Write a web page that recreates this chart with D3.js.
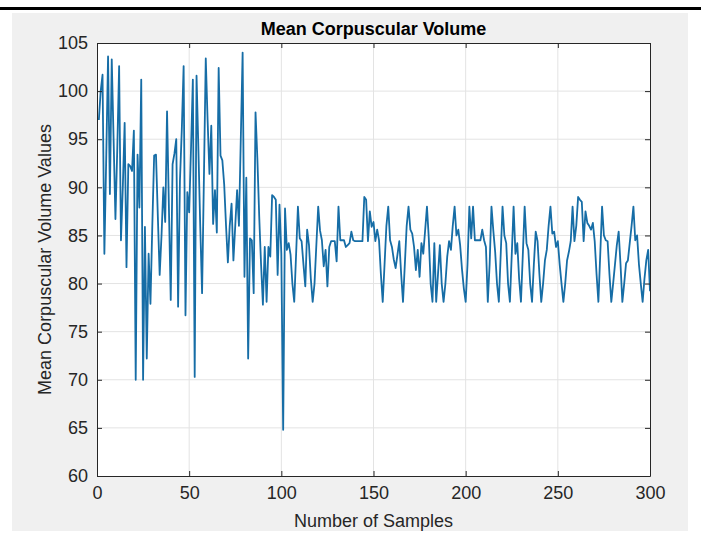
<!DOCTYPE html>
<html>
<head>
<meta charset="utf-8">
<script src="https://cdn.jsdelivr.net/npm/d3@7"></script>
<style>
  body { margin: 0; background: #fff; }
  svg { display: block; font-family: "Liberation Sans", Arial, sans-serif; }
</style>
</head>
<body>
<div id="chart"></div>
<script>
// values, samples 1..300
var mcv = [
 97, 100, 101.7, 83.1, 93, 103.6, 89.3, 103.3, 95, 86.7,
 94, 102.6, 84.5, 90, 96.7, 81.7, 92.4, 92.2, 91.7, 95.9,
 70, 93.4, 87.9, 101.2, 70, 85.9, 72.2, 83.1, 77.9, 86,
 93.3, 93.4, 87, 80.9, 85, 90, 86.4, 97.9, 88, 78.3,
 92.4, 93.5, 95, 77.6, 90.7, 96, 102.6, 76.7, 89.5, 87.4,
 94, 101.2, 70.3, 101.6, 94, 86, 79, 91, 103.4, 97,
 91.4, 96.4, 86.2, 89.7, 85.3, 102.4, 93.3, 92.8, 90.3, 86,
 82.2, 86, 88.3, 82.4, 86, 89.7, 86, 95, 104, 80.7,
 91, 72.2, 84.7, 84.5, 79, 97.8, 93, 87, 82, 77.8,
 83.8, 78.1, 83.8, 82.8, 89.2, 89, 88.7, 80.9, 88.2, 83.1,
 64.8, 87.8, 83.5, 84.2, 83, 80, 78.1, 83, 88, 84.7,
 84.4, 82, 79.7, 85.6, 84, 80.5, 78.1, 80, 84, 88,
 85.5, 84.5, 81.8, 83.5, 79.7, 83.8, 84.4, 84.4, 84.4, 82.3,
 88, 84.5, 84.5, 84.5, 83.8, 84, 84.2, 85.4, 84.5, 84.4,
 84.4, 84.4, 84.4, 84.4, 89, 88.7, 84.4, 87.5, 85.9, 86.4,
 84.4, 85.6, 84.5, 81, 78.1, 82, 86, 88, 84.5, 83.8,
 82.5, 81.6, 83, 84.4, 81, 78.1, 82, 86, 88, 85.6,
 85.2, 83.8, 81.4, 83.5, 80.7, 84.2, 83.1, 85.5, 88, 84.7,
 80, 78.1, 84.2, 78.1, 81, 84, 80, 78.1, 80, 82.8,
 84.4, 83.5, 86, 88, 85, 85.6, 84, 81.5, 79.5, 78.1,
 82, 88, 84.7, 88, 84.5, 84.5, 84.5, 84.5, 85.6, 84.5,
 83.8, 78.1, 82, 88, 85.5, 83.3, 80, 78.1, 83, 88,
 85, 84.2, 80, 78.1, 83, 88, 83.1, 84.2, 80.5, 78.1,
 83, 88, 84.2, 83.5, 80, 78.1, 82, 85.4, 84.4, 81,
 78.1, 80, 82.4, 83.5, 86, 88, 85.2, 85.4, 83.8, 84.4,
 82, 80, 78.1, 80, 82.4, 83.3, 84.4, 88, 84.4, 86,
 89, 88.7, 88.5, 84.4, 87.5, 86.3, 86, 85.6, 86.3, 84.4,
 81, 78.1, 83, 88, 85, 84.5, 84.4, 81, 78.1, 80,
 82, 84, 85.4, 82, 78.1, 80, 82.1, 82.4, 84.2, 86,
 88, 84.5, 85, 82, 80, 78.1, 80.5, 82.4, 83.5, 79.2
];
var xTicks = [0, 50, 100, 150, 200, 250, 300];
var yTicks = [60, 65, 70, 75, 80, 85, 90, 95, 100, 105];
var titleText = "Mean Corpuscular Volume";
var xLabel = "Number of Samples";
var yLabel = "Mean Corpuscular Volume Values";

var W = 701, H = 534;
var margin = {top: 43, right: 51, bottom: 58, left: 97};
var width = W - margin.left - margin.right;
var height = H - margin.top - margin.bottom;

var svg = d3.select("#chart").append("svg")
  .attr("width", W)
  .attr("height", H);

// figure background + black rule at the top
svg.append("rect").attr("x", 0).attr("y", 7).attr("width", W).attr("height", 3).attr("fill", "#000");
svg.append("rect").attr("x", 12).attr("y", 13).attr("width", 676).attr("height", 518).attr("fill", "#f0f0f0");

var g = svg.append("g").attr("transform", "translate(" + margin.left + "," + margin.top + ")");

var x = d3.scaleLinear().domain([0, 300]).range([0, width]);
var y = d3.scaleLinear().domain([60, 105]).range([height, 0]);

g.append("rect").attr("width", width).attr("height", height).attr("fill", "#fff");

// grid
g.append("g").selectAll("line").data(xTicks.slice(1, -1)).enter().append("line")
  .attr("x1", function(d) { return x(d); }).attr("x2", function(d) { return x(d); })
  .attr("y1", 0).attr("y2", height)
  .attr("stroke", "#e3e3e3").attr("stroke-width", 1);
g.append("g").selectAll("line").data(yTicks.slice(1, -1)).enter().append("line")
  .attr("y1", function(d) { return y(d); }).attr("y2", function(d) { return y(d); })
  .attr("x1", 0).attr("x2", width)
  .attr("stroke", "#e3e3e3").attr("stroke-width", 1);

// data line
var line = d3.line()
  .x(function(d, i) { return x(i + 1); })
  .y(function(d) { return y(d); });

g.append("path").datum(mcv)
  .attr("d", line)
  .attr("fill", "none")
  .attr("stroke", "#166da6")
  .attr("stroke-width", 1.8)
  .attr("stroke-linejoin", "round");

// axes, MATLAB style: ticks inward, box on
function styleAxis(sel) {
  sel.select(".domain").attr("stroke", "#262626");
  sel.selectAll(".tick line").attr("stroke", "#262626");
  sel.selectAll(".tick text").attr("fill", "#262626").style("font-size", "18px");
}

g.append("g").attr("transform", "translate(0," + height + ")")
  .call(d3.axisBottom(x).tickValues(xTicks).tickSizeInner(-5).tickSizeOuter(0).tickPadding(10))
  .call(styleAxis);
g.append("g")
  .call(d3.axisLeft(y).tickValues(yTicks).tickSizeInner(-5).tickSizeOuter(0).tickPadding(9))
  .call(styleAxis);
g.append("g")
  .call(d3.axisTop(x).tickValues(xTicks).tickSizeInner(-5).tickSizeOuter(0).tickFormat(""))
  .call(styleAxis);
g.append("g").attr("transform", "translate(" + width + ",0)")
  .call(d3.axisRight(y).tickValues(yTicks).tickSizeInner(-5).tickSizeOuter(0).tickFormat(""))
  .call(styleAxis);

// labels
svg.append("text")
  .attr("x", margin.left + width / 2).attr("y", 35)
  .attr("text-anchor", "middle")
  .style("font-size", "18px").style("font-weight", "bold")
  .attr("fill", "#000")
  .text(titleText);

svg.append("text")
  .attr("x", margin.left + width / 2).attr("y", 527)
  .attr("text-anchor", "middle")
  .style("font-size", "18px")
  .attr("fill", "#262626")
  .text(xLabel);

svg.append("text")
  .attr("transform", "translate(51," + (margin.top + height / 2) + ")rotate(-90)")
  .attr("text-anchor", "middle")
  .style("font-size", "18px")
  .attr("fill", "#262626")
  .text(yLabel);
</script>
</body>
</html>
